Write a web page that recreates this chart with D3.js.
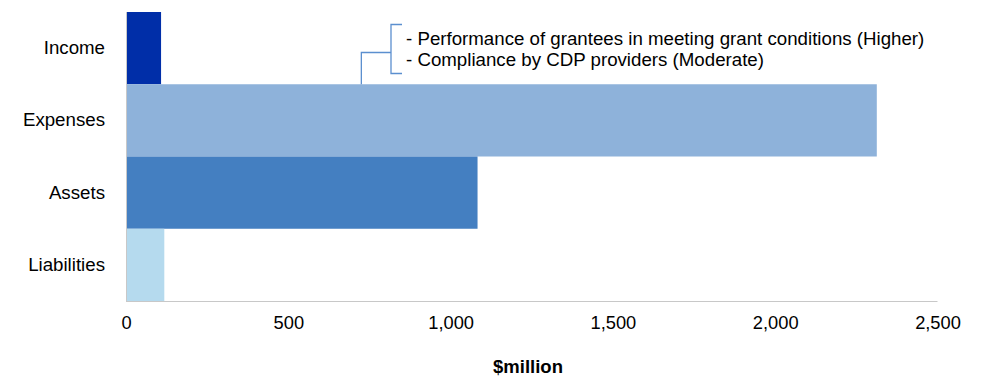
<!DOCTYPE html>
<html><head><meta charset="utf-8">
<script src="https://cdn.jsdelivr.net/npm/d3@7"></script>
<style>body{margin:0;background:#fff;} text{font-family:"Liberation Sans",Arial,sans-serif;}</style>
</head><body>
<svg id="c" width="985" height="388"></svg>
<script>
const categories = ["Income","Expenses","Assets","Liabilities"];
const values = [108, 2313, 1083, 118];
const colors = ["#002ea8","#8eb2da","#447fc1","#b5daee"];
const tickValues = [0,500,1000,1500,2000,2500];
const annotationLines = ["- Performance of grantees in meeting grant conditions (Higher)","- Compliance by CDP providers (Moderate)"];
const xTitle = "$million";

const svg = d3.select("#c");
const m = {left:126, right:985-937.5, top:12, bottom:388-301};
const W = 985, H = 388;
const FS = 18.7;
const x = d3.scaleLinear().domain([0,2500]).range([m.left, W-m.right]);
const y = d3.scaleBand().domain(categories).range([m.top, H-m.bottom]).padding(0);

svg.selectAll("rect.bar").data(categories).join("rect").attr("class","bar")
  .attr("x", x(0)).attr("y", d=>y(d)).attr("height", y.bandwidth())
  .attr("width", (d,i)=>x(values[i])-x(0)).attr("fill",(d,i)=>colors[i]);

// axes lines
svg.append("line").attr("x1",x(0)).attr("x2",x(2500)).attr("y1",H-m.bottom+0.5).attr("y2",H-m.bottom+0.5).attr("stroke","#c8c8c8");
svg.append("line").attr("x1",x(0)+0.5).attr("x2",x(0)+0.5).attr("y1",m.top).attr("y2",H-m.bottom).attr("stroke","#c8c8c8");

const xAxis = d3.axisBottom(x).tickValues(tickValues).tickSize(0).tickPadding(0).tickFormat(d3.format(","));
const gx = svg.append("g").attr("transform",`translate(0,${H-m.bottom})`).call(xAxis);
gx.select(".domain").remove();
gx.selectAll("text").attr("font-size",18.3).attr("fill","#000").attr("dy",null).attr("y",27.5)
  .style("font-family","'Liberation Sans',Arial,sans-serif");

const yAxis = d3.axisLeft(y).tickSize(0).tickPadding(0);
const gy = svg.append("g").attr("transform",`translate(${m.left-21},0)`).call(yAxis);
gy.select(".domain").remove();
gy.selectAll("text").attr("font-size",FS).attr("fill","#000")
  .style("font-family","'Liberation Sans',Arial,sans-serif");

svg.append("text").attr("x",528).attr("y",372.5).attr("text-anchor","middle")
  .attr("font-size",18.5).attr("font-weight","bold").text(xTitle);

// annotation bracket
const bx = x(725), barTop = y("Expenses");
const path = d3.path();
path.moveTo(bx, barTop); path.lineTo(bx, 52.5); path.lineTo(391, 52.5);
path.moveTo(402, 24.5); path.lineTo(391, 24.5); path.lineTo(391, 73.5); path.lineTo(402, 73.5);
svg.append("path").attr("d", path.toString()).attr("fill","none").attr("stroke","#5b8fcf").attr("stroke-width",1.3);

svg.selectAll("text.ann").data(annotationLines).join("text").attr("class","ann")
  .attr("x",406).attr("y",(d,i)=>45+i*20.8).attr("font-size",FS).attr("fill","#000").text(d=>d);
</script>
</body></html>
